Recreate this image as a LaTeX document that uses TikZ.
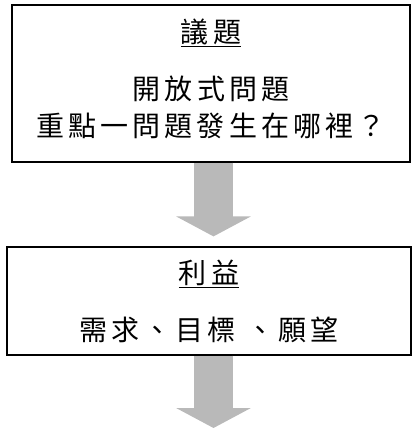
\documentclass[tikz,border=0pt]{standalone}
\usepackage{fontspec}
\newfontfamily\cjk[LetterSpace=15]{Noto Sans CJK TC}
\usetikzlibrary{arrows.meta,calc}
\tikzset{
  box/.style={draw=black, line width=1.2pt, rectangle, inner sep=0pt, font=\cjk\fontsize{28pt}{37pt}\selectfont, align=center},
  fatarrow/.style={draw=gray!55, line width=39pt, line cap=butt, -{Triangle[width=74pt,length=20pt]}}
}
\begin{document}
\begin{tikzpicture}[x=1pt,y=1pt]
\useasboundingbox (0,0) rectangle (413,-428);
\node[box, minimum width=398pt, minimum height=157pt] (b1) at (211,-83.5)
  {\underline{議題}\\[20pt] 開放式問題\\ 重點一問題發生在哪裡？\\[-26pt]~};
\node[box, minimum width=404pt, minimum height=108pt] (b2) at (209,-301)
  {\underline{利益}\\[20pt] 需求、目標 、願望};
\coordinate (end) at (213.5,-428);
\draw[fatarrow, shorten >=10pt] (b1.south -| 213.5,0) -- (b2.north -| 213.5,0);
\draw[fatarrow] (b2.south -| 213.5,0) -- (end);
\end{tikzpicture}
\end{document}
